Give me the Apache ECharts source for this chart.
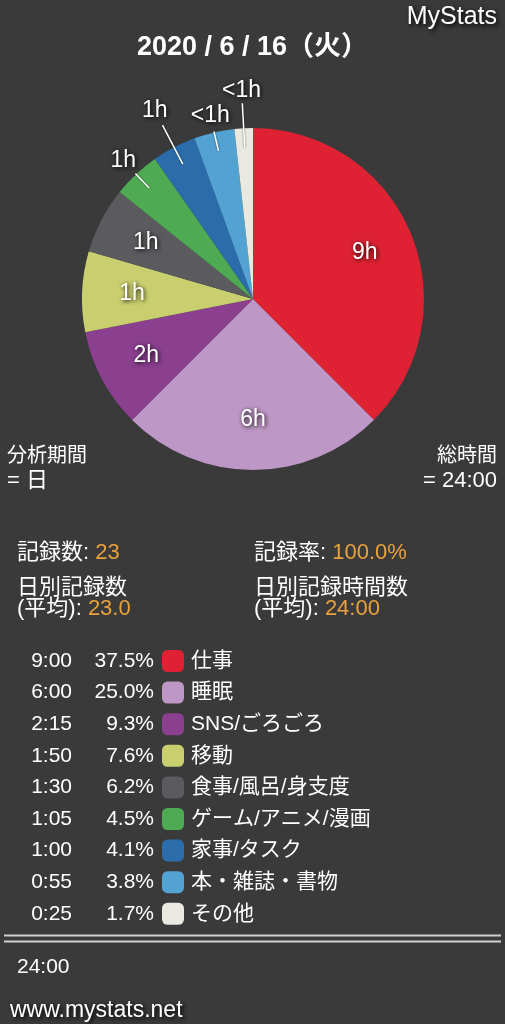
<!DOCTYPE html>
<html><head><meta charset="utf-8">
<script src="https://cdn.jsdelivr.net/npm/echarts@6/dist/echarts.min.js"></script>
<style>html,body{margin:0;padding:0;background:#3a3a3a}#c{width:505px;height:1024px}</style>
</head><body><div id="c"></div>
<script>
// ---- data ----
const categories = ['仕事','睡眠','SNS/ごろごろ','移動','食事/風呂/身支度','ゲーム/アニメ/漫画','家事/タスク','本・雑誌・書物','その他'];
const minutes = [540, 360, 135, 110, 90, 65, 60, 55, 25];
const percentLabels = ['37.5%','25.0%','9.3%','7.6%','6.2%','4.5%','4.1%','3.8%','1.7%'];
const colors = ['#de2233','#bd97c5','#8b3f8f','#c9cf6e','#5b5b5f','#4eab53','#2b6cab','#52a2d2','#e9e9e1'];
const titleText = '2020 / 6 / 16（火）';
const brandText = 'MyStats';
const siteText = 'www.mystats.net';
const periodLines = ['分析期間', '= 日'];
const totalLines = ['総時間', '= 24:00'];
const recordCount = '23';
const recordRate = '100.0%';
const dailyCountAvg = '23.0';
const dailyTimeAvg = '24:00';
const grandTotal = '24:00';

// ---- helpers ----
const FONT = "'Liberation Sans','Noto Sans CJK JP',sans-serif";
const fmtTime = m => Math.floor(m / 60) + ':' + String(m % 60).padStart(2, '0');
const hourLabel = m => m >= 60 ? Math.floor(m / 60) + 'h' : '<1h';
const INSIDE_MIN = 80; // slices at least this big get an inside label
const outsideIdx = minutes.map((m, i) => m < INSIDE_MIN ? i : -1).filter(i => i >= 0);
const isShort = i => (outsideIdx.indexOf(i) % 2) === 0;
const total = minutes.reduce((a, b) => a + b, 0);

const labelFont = {
  color: '#fff', fontSize: 23, fontFamily: FONT,
  textShadowColor: 'rgba(0,0,0,1)', textShadowBlur: 4, textShadowOffsetX: 1, textShadowOffsetY: 1
};
const CENTER = [253, 299];
const R = 171;
const LINE_START = 152, SHORT_LEN = 20, LONG_LEN = 44;
const clear = 'rgba(0,0,0,0)';
const noHide = { hideOverlap: false, moveOverlap: null };

function ringSeries(radius, pick) {
  return {
    type: 'pie', center: CENTER, radius: radius, startAngle: 90, clockwise: true,
    silent: true, avoidLabelOverlap: false, emphasis: { disabled: true }, z: 5,
    labelLayout: noHide,
    itemStyle: { color: clear },
    label: { show: false },
    labelLine: { show: false },
    data: categories.map((n, i) => ({
      name: n, value: minutes[i],
      label: pick(i) ? Object.assign({ show: true, position: 'inside', formatter: hourLabel(minutes[i]) }, labelFont) : { show: false }
    }))
  };
}

// radius at which an outside label sits just beyond the end of its leader line
function outsideLabelRadius(i) {
  const before = minutes.slice(0, i).reduce((a, b) => a + b, 0);
  const mid = (before + minutes[i] / 2) / total * 2 * Math.PI;
  const w = hourLabel(minutes[i]).length > 2 ? 40 : 25, h = 20;
  const ext = (w / 2) * Math.abs(Math.sin(mid)) + (h / 2) * Math.abs(Math.cos(mid));
  return LINE_START + (isShort(i) ? SHORT_LEN : LONG_LEN) + ext - 1;
}

const series = [
  {
    type: 'pie', center: CENTER, radius: [0, R], startAngle: 90, clockwise: true,
    silent: true, emphasis: { disabled: true }, z: 2,
    label: { show: false }, labelLine: { show: false },
    data: categories.map((n, i) => ({ name: n, value: minutes[i], itemStyle: { color: colors[i] } }))
  },
  {
    // leader lines starting inside the small slices
    type: 'pie', center: CENTER, radius: [0, LINE_START], startAngle: 90, clockwise: true,
    silent: true, avoidLabelOverlap: false, emphasis: { disabled: true }, z: 4,
    labelLayout: noHide,
    itemStyle: { color: clear },
    label: { show: false }, labelLine: { show: false },
    data: categories.map((n, i) => {
      const out = minutes[i] < INSIDE_MIN;
      return {
        name: n, value: minutes[i],
        label: out ? { show: true, formatter: ' ', fontSize: 1, distanceToLabelLine: 0 } : { show: false },
        labelLine: out ? { show: true, length: isShort(i) ? SHORT_LEN : LONG_LEN, length2: 0, smooth: false,
          lineStyle: { color: '#fff', width: 1.5, shadowColor: 'rgba(0,0,0,0.6)', shadowBlur: 2 } } : { show: false }
      };
    })
  },
  ringSeries([65, R], i => minutes[i] >= INSIDE_MIN)
].concat(outsideIdx.map(i => {
  const r = outsideLabelRadius(i);
  return ringSeries([r - 9, r + 9], j => j === i);
}));

const rowTop = 650, rowH = 22, rowGap = 9.6, tableFs = 21;

const legends = [
  {
    orient: 'vertical', left: 162, top: rowTop, padding: 0,
    itemWidth: 22, itemHeight: rowH, itemGap: rowGap, icon: 'roundRect',
    selectedMode: false, data: categories,
    textStyle: { color: '#fff', fontSize: tableFs, fontFamily: FONT, lineHeight: rowH, padding: [0, 0, 0, 2] }
  },
  {
    orient: 'vertical', left: 0, top: rowTop, padding: 0,
    itemWidth: 0, itemHeight: rowH, itemGap: rowGap, icon: 'none',
    selectedMode: false, data: categories,
    formatter: name => {
      const i = categories.indexOf(name);
      return '{t|' + fmtTime(minutes[i]) + '}{p|' + percentLabels[i] + '}';
    },
    textStyle: {
      color: '#fff', fontSize: tableFs, fontFamily: FONT, lineHeight: rowH,
      rich: {
        t: { width: 67, align: 'right', color: '#fff', fontSize: tableFs, fontFamily: FONT, lineHeight: rowH },
        p: { width: 82, align: 'right', color: '#fff', fontSize: tableFs, fontFamily: FONT, lineHeight: rowH }
      }
    }
  }
];

const statFs = 22;
const richStat = {
  w: { fill: '#fff', fontSize: statFs, fontFamily: FONT, lineHeight: 21 },
  o: { fill: '#e9a23b', fontSize: statFs, fontFamily: FONT, lineHeight: 21 }
};
function txt(text, x, y, opts) {
  return {
    type: 'text', silent: true,
    style: Object.assign({ text: text, x: x, y: y, fill: '#fff', font: statFs + 'px ' + FONT,
      verticalAlign: 'middle', align: 'left' }, opts || {})
  };
}
const shadowed = { shadowColor: 'rgba(0,0,0,1)', shadowBlur: 4, shadowOffsetX: 2, shadowOffsetY: 2,
  textShadowColor: 'rgba(0,0,0,1)', textShadowBlur: 4, textShadowOffsetX: 2, textShadowOffsetY: 2 };

const graphic = [
  txt(brandText, 497, 17, Object.assign({ align: 'right', font: '25px ' + FONT }, shadowed)),
  txt(periodLines[0], 7, 456, { font: '20px ' + FONT }),
  txt(periodLines[1], 7, 481, { font: '22px ' + FONT }),
  txt(totalLines[0], 497, 456, { font: '20px ' + FONT, align: 'right' }),
  txt(totalLines[1], 497, 481, { font: '22px ' + FONT, align: 'right' }),
  txt('{w|記録数: }{o|' + recordCount + '}', 17, 553, { rich: richStat }),
  txt('{w|記録率: }{o|' + recordRate + '}', 254, 553, { rich: richStat }),
  txt('{w|日別記録数}\n{w|(平均): }{o|' + dailyCountAvg + '}', 17, 598, { rich: richStat }),
  txt('{w|日別記録時間数}\n{w|(平均): }{o|' + dailyTimeAvg + '}', 254, 598, { rich: richStat }),
  { type: 'line', silent: true, shape: { x1: 4, y1: 935.5, x2: 501, y2: 935.5 }, style: { stroke: '#cfcfcf', lineWidth: 2 } },
  { type: 'line', silent: true, shape: { x1: 4, y1: 941.5, x2: 501, y2: 941.5 }, style: { stroke: '#cfcfcf', lineWidth: 2 } },
  txt(grandTotal, 17, 967, { font: tableFs + 'px ' + FONT }),
  txt(siteText, 10, 1011, Object.assign({ font: '23px ' + FONT }, shadowed))
];

const chart = echarts.init(document.getElementById('c'), null, { renderer: 'canvas' });
chart.setOption({
  backgroundColor: '#3a3a3a',
  animation: false,
  title: {
    text: titleText, left: 'center', top: 34, padding: 0,
    textStyle: { color: '#fff', fontSize: 27, fontWeight: 'bold', fontFamily: FONT }
  },
  legend: legends,
  series: series,
  graphic: graphic
});
</script></body></html>
